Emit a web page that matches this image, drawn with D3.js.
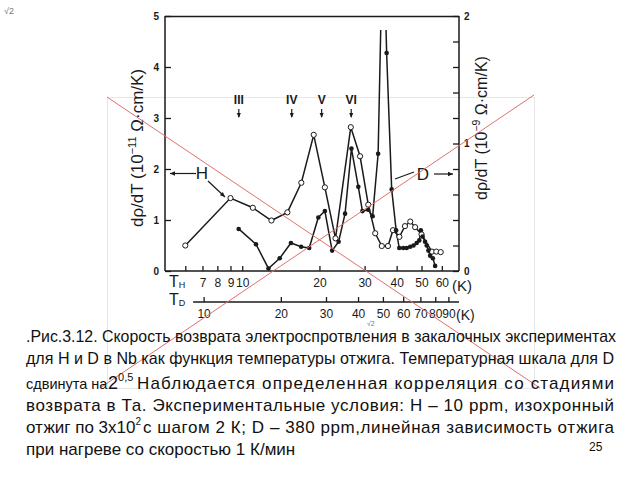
<!DOCTYPE html>
<html><head><meta charset="utf-8">
<script src="https://cdn.jsdelivr.net/npm/d3@7"></script>
<style>body{margin:0;background:#fff}svg{display:block}text{font-family:"Liberation Sans",Arial,sans-serif}</style>
</head><body>
<svg id="c" width="640" height="480"></svg>
<script>
// ---- data ----
// H (open circles): annealing temperature T_H (K), dρ/dT in 10^-11 Ω·cm/K (left axis)
const hTemp = [6, 9, 11, 13, 15, 17, 19, 21, 23.1, 26.5, 28.8, 31, 33, 35, 37, 38.7, 41, 43.1, 45.2, 47.2, 50, 54.9, 57.1, 59.4];
const hVal  = [0.50, 1.43, 1.24, 0.99, 1.15, 1.73, 2.67, 1.64, 0.64, 2.82, 2.25, 1.30, 0.74, 0.49, 0.49, 0.80, 0.67, 0.88, 0.97, 0.86, 0.72, 0.38, 0.38, 0.37];
// D (filled circles): annealing temperature T_D (K), dρ/dT in 10^-9 Ω·cm/K (right axis)
const dTemp = [13.7, 16.0, 17.9, 19.8, 21.9, 24.0, 25.8, 28.0, 29.7, 31.7, 33.6, 35.6, 37.7, 40.1, 41.6, 43.8, 45.6, 47.9, 50.1, 51.7, 54.1, 56.3, 57.9, 60.0, 61.9, 63.9, 65.8, 67.7, 69.3, 70.3, 71.4, 73.0, 74.1, 75.2, 76.4, 78.3, 79.9];
const dVal  = [0.33, 0.21, 0.02, 0.10, 0.22, 0.19, 0.18, 0.42, 0.47, 0.16, 0.23, 0.45, 0.96, 0.66, 0.47, 0.48, 0.43, 0.92, 2.80, 1.71, 0.64, 0.32, 0.18, 0.18, 0.18, 0.19, 0.20, 0.22, 0.24, 0.32, 0.27, 0.23, 0.20, 0.16, 0.12, 0.10, 0.04];
const leftTicks = [0, 1, 2, 3, 4, 5];
const rightTicks = [0, 0.2, 0.4, 0.6, 0.8, 1, 1.2, 1.4, 1.6, 1.8, 2];
const tHTicks = [6, 7, 8, 9, 10, 20, 30, 40, 50, 60];
const tHLabels = ["", "7", "8", "9", "10", "20", "30", "40", "50", "60"];
const tDTicks = [10, 20, 30, 40, 50, 60, 70, 80, 90];
const stages = ["III", "IV", "V", "VI"];
const stageTemp = [9.7, 15.6, 20.4, 26.6];
const caption = [
  ".Рис.3.12. Скорость возврата электроспротвления в закалочных экспериментах",
  "для H и D в Nb как функция температуры отжига. Температурная шкала для D",
  "возврата в Та. Экспериментальные условия: H – 10 ppm, изохронный",
  "при нагреве со скоростью 1 К/мин"
];

const svg = d3.select("#c");
const ink = "#1a1a1a";

// background artefacts of the slide
svg.append("rect").attr("x",107.5).attr("y",97.5).attr("width",427).attr("height",291).attr("fill","none").attr("stroke","#e6e6e6").attr("stroke-width",1);
svg.append("text").attr("x",4).attr("y",14).attr("font-size",9).attr("fill","#777").text("√2");
svg.append("text").attr("x",367).attr("y",326).attr("font-size",7).attr("fill","#777").text("√2");

// scales
const xH = d3.scaleLog().domain([5, 70]).range([165, 459]);
const xD = d3.scaleLog().domain([5 * Math.SQRT2, 70 * Math.SQRT2]).range([165, 459]);
const yL = d3.scaleLinear().domain([0, 5]).range([271, 16]);
const yR = d3.scaleLinear().domain([0, 2]).range([271, 16]);

// frame top
svg.append("line").attr("x1",165).attr("x2",459).attr("y1",16.5).attr("y2",16.5).attr("stroke",ink).attr("stroke-width",1.5);

const gL = svg.append("g").attr("transform","translate(165,0)")
  .call(d3.axisLeft(yL).tickValues(leftTicks).tickSize(-6).tickPadding(6).tickFormat(d3.format("d")));
const gR = svg.append("g").attr("transform","translate(459,0)")
  .call(d3.axisRight(yR).tickValues(rightTicks).tickSize(-6).tickPadding(5).tickFormat(d => Math.abs(d - Math.round(d)) < 1e-6 ? d3.format("d")(d) : ""));
const gB = svg.append("g").attr("transform","translate(0,271)")
  .call(d3.axisBottom(xH).tickValues(tHTicks).tickSize(-5).tickPadding(7).tickFormat((d,i) => tHLabels[i]));
const gD = svg.append("g").attr("transform","translate(0,302)")
  .call(d3.axisBottom(xD).tickValues(tDTicks).tickSize(-5).tickPadding(7).tickFormat(d3.format("d")));
gD.select(".domain").remove();
gD.append("line").attr("x1",xD(9.1)).attr("x2",459).attr("y1",0).attr("y2",0).attr("stroke",ink).attr("stroke-width",1.5);

[gL,gR,gB,gD].forEach(g => {
  g.selectAll(".domain").attr("stroke",ink).attr("stroke-width",1.5);
  g.selectAll(".tick line").attr("stroke",ink).attr("stroke-width",1.3);
  g.selectAll("text").attr("font-size",10).attr("font-weight","bold").attr("fill",ink).attr("font-family","Liberation Sans, Arial");
});
gB.selectAll("text").attr("font-size",12).attr("font-weight","normal");
gD.selectAll("text").attr("font-size",12).attr("font-weight","normal");
gL.selectAll(".domain").attr("d","M0,271V16");
gR.selectAll(".domain").attr("d","M0,271V16");
gB.selectAll(".domain").attr("d","M165,0H459");

function tsub(x, y, main, sub){
  const t = svg.append("text").attr("x",x).attr("y",y).attr("font-size",16).attr("fill",ink);
  t.append("tspan").text(main);
  t.append("tspan").attr("font-size",9).attr("dy",1).text(sub);
}
tsub(169, 287, "T", "H");
tsub(169, 305, "T", "D");
svg.append("text").attr("x",452).attr("y",291).attr("font-size",15).attr("fill",ink).text("(K)");
svg.append("text").attr("x",456).attr("y",320).attr("font-size",14).attr("fill",ink).text("(K)");

function ytitle(x, y, exp, fs){
  const t = svg.append("text").attr("transform",`translate(${x},${y}) rotate(-90)`).attr("text-anchor","middle").attr("font-size",fs).attr("fill",ink);
  t.append("tspan").text("dρ/dT  (10");
  t.append("tspan").attr("font-size",fs*0.65).attr("dy",-7).text(exp);
  t.append("tspan").attr("dy",7).text(" Ω·cm/K)");
}
ytitle(143, 148, "−11", 17);
ytitle(487, 128, "−9", 16);

stages.forEach((s,i) => {
  const x = xH(stageTemp[i]);
  svg.append("text").attr("x",x).attr("y",104).attr("text-anchor","middle").attr("font-size",12).attr("font-weight","bold").attr("fill",ink).text(s);
  svg.append("line").attr("x1",x).attr("x2",x).attr("y1",109).attr("y2",117).attr("stroke",ink).attr("stroke-width",1.2);
  svg.append("path").attr("d",`M${x-2},113L${x},118L${x+2},113Z`).attr("fill",ink);
});

svg.append("clipPath").attr("id","clp").append("rect").attr("x",160).attr("y",30).attr("width",300).attr("height",245);

const lineH = d3.line().x((d,i) => xH(hTemp[i])).y((d,i) => yL(hVal[i]));
const lineD = d3.line().x((d,i) => xD(dTemp[i])).y((d,i) => yR(dVal[i]));
svg.append("path").attr("d", lineH(hTemp)).attr("fill","none").attr("stroke",ink).attr("stroke-width",1.5);
svg.append("path").attr("d", lineD(dTemp)).attr("fill","none").attr("stroke",ink).attr("stroke-width",1.5).attr("clip-path","url(#clp)");
svg.selectAll("circle.h").data(d3.range(hTemp.length)).enter().append("circle").attr("class","h")
  .attr("cx",i=>xH(hTemp[i])).attr("cy",i=>yL(hVal[i])).attr("r",2.6).attr("fill","#fff").attr("stroke",ink).attr("stroke-width",1);
svg.selectAll("circle.d").data(d3.range(dTemp.length).filter(i => yR(dVal[i]) >= 30)).enter().append("circle").attr("class","d")
  .attr("cx",i=>xD(dTemp[i])).attr("cy",i=>yR(dVal[i])).attr("r",2.3).attr("fill",ink);

const arr = (x1,y1,x2,y2) => {
  svg.append("line").attr("x1",x1).attr("y1",y1).attr("x2",x2).attr("y2",y2).attr("stroke",ink).attr("stroke-width",1.2);
  const a = Math.atan2(y2-y1,x2-x1), L=5, w=2.2;
  const bx = x2 - L*Math.cos(a), by = y2 - L*Math.sin(a);
  svg.append("path").attr("d",`M${x2},${y2}L${bx - w*Math.sin(a)},${by + w*Math.cos(a)}L${bx + w*Math.sin(a)},${by - w*Math.cos(a)}Z`).attr("fill",ink);
};
arr(196,173.5,170,173.5);
svg.append("text").attr("x",202).attr("y",179).attr("text-anchor","middle").attr("font-size",17).attr("fill",ink).text("H");
arr(208,181,225,197);
svg.append("text").attr("x",423).attr("y",180).attr("text-anchor","middle").attr("font-size",17).attr("fill",ink).text("D");
arr(434,174,453,174);
svg.append("line").attr("x1",414).attr("y1",172).attr("x2",395).attr("y2",179).attr("stroke",ink).attr("stroke-width",1.2);

// red cross over the slide
svg.append("line").attr("x1",107).attr("y1",97).attr("x2",540).attr("y2",388).attr("stroke","#e07070").attr("stroke-width",1);
svg.append("line").attr("x1",534).attr("y1",95).attr("x2",100).attr("y2",388).attr("stroke","#e07070").attr("stroke-width",1);

// caption
const cap = svg.append("g").attr("fill","#111");
cap.append("text").attr("x",26).attr("y",342).attr("font-size",16.5).attr("textLength",590).attr("lengthAdjust","spacingAndGlyphs").text(caption[0]);
cap.append("text").attr("x",26).attr("y",364).attr("font-size",16.5).attr("textLength",588).attr("lengthAdjust","spacingAndGlyphs").text(caption[1]);
cap.append("text").attr("x",26).attr("y",389).attr("font-size",14.5).text("сдвинута на");
const t2 = cap.append("text").attr("x",108).attr("y",389).attr("font-size",18);
t2.append("tspan").text("2");
t2.append("tspan").attr("font-size",11).attr("dy",-8).text("0,5");
cap.append("text").attr("x",137).attr("y",389).attr("font-size",17).attr("textLength",477).attr("lengthAdjust","spacing").text("Наблюдается определенная корреляция со стадиями");
cap.append("text").attr("x",26).attr("y",411).attr("font-size",17).attr("textLength",588).attr("lengthAdjust","spacing").text(caption[2]);
const t5 = cap.append("text").attr("x",26).attr("y",433).attr("font-size",17);
t5.append("tspan").text("отжиг по 3х10");
t5.append("tspan").attr("font-size",10).attr("dy",-8).text("2");
cap.append("text").attr("x",143).attr("y",433).attr("font-size",17).attr("textLength",471).attr("lengthAdjust","spacing").text("с шагом 2 К; D – 380 ppm,линейная зависимость отжига");
cap.append("text").attr("x",26).attr("y",455).attr("font-size",17).text(caption[3]);
cap.append("text").attr("x",589).attr("y",451).attr("font-size",12).text("25");
</script>
</body></html>
